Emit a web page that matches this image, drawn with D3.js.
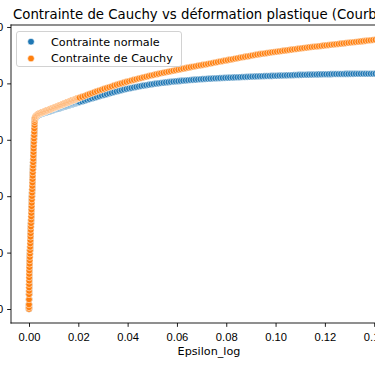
<!DOCTYPE html>
<html>
<head>
<meta charset="utf-8">
<script src="https://cdn.jsdelivr.net/npm/d3@7"></script>
<style>
  body { margin: 0; background: #fff; }
  svg { display: block; font-family: "DejaVu Sans", sans-serif; }
</style>
</head>
<body>
<script>
// Epsilon_log (elastique, zone dense, zone plastique)
const strain = [
  0,0,0,0.00002,0.00004,0.00005,0.00006,0.00007,0.00008,0.00009,0.0001,0.00013,0.00018,0.00023,0.00028,0.00033,0.00038,0.00042,0.00047,0.00052,
  0.00057,0.00062,0.00066,0.00071,0.00076,0.00081,0.00086,0.00091,0.00095,0.001,0.00105,0.0011,0.00115,0.00119,0.00124,0.00129,0.00134,0.00139,0.00144,0.00148,
  0.00153,0.00158,0.00163,0.00168,0.00173,0.00177,0.00182,0.00187,0.00192,0.00197,0.00202,0.00207,0.00212,0.00218,0.00224,0.0023,0.00236,0.00241,
  0.0025,0.0028,0.0031,0.0034,0.0037,0.0040,0.0043,0.0046,0.0049,0.0052,0.0055,0.0058,0.0061,0.0064,0.0067,0.0070,0.0073,0.0076,0.0079,0.0082,
  0.0085,0.0088,0.0091,0.0094,0.0097,0.0100,0.0103,0.0106,0.0109,0.0112,0.0115,0.0118,0.0121,0.0124,0.0127,0.0130,0.0133,0.0136,0.0139,0.0142,
  0.0145,0.0148,0.0151,0.0154,0.0157,0.0160,0.0163,0.0166,0.0169,0.0172,0.0175,0.0178,0.0181,0.0184,0.0187,0.0190,0.0193,0.0196,0.0199,0.0202,0.0205,
  0.0215,0.0225,0.0235,0.0245,0.0255,0.0265,0.0275,0.0285,0.0295,0.0305,0.0315,0.0325,0.0335,0.0345,0.0355,0.0365,0.0375,0.0385,0.0395,0.0405,
  0.0415,0.0425,0.0435,0.0445,0.0455,0.0465,0.0475,0.0485,0.0495,0.0505,0.0515,0.0525,0.0535,0.0545,0.0555,0.0565,0.0575,0.0585,0.0595,0.0605,
  0.0615,0.0625,0.0635,0.0645,0.0655,0.0665,0.0675,0.0685,0.0695,0.0705,0.0715,0.0725,0.0735,0.0745,0.0755,0.0765,0.0775,0.0785,0.0795,0.0805,
  0.0815,0.0825,0.0835,0.0845,0.0855,0.0865,0.0875,0.0885,0.0895,0.0905,0.0915,0.0925,0.0935,0.0945,0.0955,0.0965,0.0975,0.0985,0.0995,0.1005,
  0.1015,0.1025,0.1035,0.1045,0.1055,0.1065,0.1075,0.1085,0.1095,0.1105,0.1115,0.1125,0.1135,0.1145,0.1155,0.1165,0.1175,0.1185,0.1195,0.1205,
  0.1215,0.1225,0.1235,0.1245,0.1255,0.1265,0.1275,0.1285,0.1295,0.1305,0.1315,0.1325,0.1335,0.1345,0.1355,0.1365,0.1375,0.1385,0.1395,0.1405,
  0.1415,0.1425,0.1435,0.1445,0.1455
]

const contrainteNormale = [
  0,3,8,17,26,32,38,44,50,56,62,68,74,80,86,92,98,104,110,115.9,
  121.9,127.9,133.9,139.9,145.9,151.9,157.9,163.9,169.8,175.8,181.8,187.8,193.8,199.8,205.7,211.7,217.7,223.7,229.7,235.7,
  241.6,247.6,253.6,259.6,265.5,271.5,277.5,283.5,289.4,295.4,301.4,307.4,313.3,319.3,325.3,330.2,334.2,337.2,
  339.2,340.5,341.7,342.8,343.7,344.6,345.0,345.4,345.9,346.3,346.7,347.1,347.5,348.0,348.4,348.7,349.1,349.5,350.0,350.4,
  350.8,351.2,351.6,352.1,352.5,352.8,353.2,353.6,354.1,354.5,354.9,355.3,355.6,356.1,356.5,356.9,357.3,357.7,358.2,358.5,
  358.9,359.3,359.7,360.2,360.5,360.9,361.3,361.7,362.2,362.6,362.9,363.3,363.7,364.2,364.6,364.9,365.3,365.7,366.2,366.5,366.9,
  368.0,369.4,370.8,372.1,373.4,374.7,376.0,377.3,378.5,379.7,380.9,382.1,383.3,384.5,385.7,386.8,387.9,389.0,390.0,391.0,
  391.9,392.8,393.7,394.5,395.3,396.1,396.8,397.5,398.2,398.9,399.5,400.1,400.6,401.2,401.7,402.2,402.7,403.2,403.6,404.0,
  404.4,404.8,405.2,405.6,405.9,406.3,406.6,407.0,407.3,407.6,407.9,408.2,408.4,408.7,408.9,409.2,409.4,409.6,409.8,410.0,
  410.2,410.4,410.6,410.8,411.0,411.2,411.4,411.6,411.8,412.0,412.2,412.4,412.6,412.7,412.9,413.0,413.2,413.3,413.5,413.6,
  413.8,413.9,414.1,414.2,414.4,414.5,414.7,414.8,415.0,415.1,415.3,415.4,415.5,415.6,415.7,415.8,415.9,416.0,416.1,416.2,
  416.3,416.4,416.5,416.6,416.6,416.7,416.7,416.8,416.8,416.9,416.9,417.0,417.0,417.1,417.1,417.1,417.1,417.2,417.2,417.2,
  417.2,417.2,417.2,417.2,417.2
]

const contrainteCauchy = [
  0,3,8,17,26,32,38,44,50,56,62,68,74,80,86,92,98,104,110,116,
  122,128,134,140,146,152,158,164,170,176,182,188,194,200,206,212,218,224,230,236,
  242,248,254,260,266,272,278,284,290,296,302,308,314,320,326,331,335,338,
  340.0,341.5,342.8,344.0,345.0,346.0,346.5,347.0,347.6,348.1,348.6,349.1,349.6,350.2,350.7,351.2,351.7,352.2,352.8,353.3,
  353.8,354.3,354.8,355.4,355.9,356.4,356.9,357.4,358.0,358.5,359.0,359.5,360.0,360.6,361.1,361.6,362.1,362.6,363.2,363.7,
  364.2,364.7,365.2,365.8,366.3,366.8,367.3,367.8,368.4,368.9,369.4,369.9,370.4,371.0,371.5,372.0,372.5,373.0,373.6,374.1,374.6,
  376.0,377.7,379.4,381.0,382.6,384.2,385.8,387.3,388.8,390.3,391.8,393.2,394.6,396.0,397.4,398.7,400.0,401.3,402.6,403.8,
  405.0,406.2,407.4,408.5,409.6,410.7,411.8,412.9,413.9,414.9,415.9,416.9,417.9,418.9,419.8,420.7,421.6,422.5,423.4,424.3,
  425.2,426.1,427.0,427.9,428.8,429.6,430.4,431.2,432.0,432.8,433.6,434.4,435.3,436.1,437.0,437.8,438.7,439.5,440.4,441.2,
  442.1,442.9,443.8,444.6,445.4,446.2,447.0,447.8,448.6,449.4,450.2,451.0,451.8,452.4,453.1,453.7,454.4,455.0,455.6,456.2,
  456.8,457.4,458.0,458.6,459.2,459.8,460.4,461.0,461.6,462.2,462.8,463.3,463.9,464.4,464.9,465.4,465.9,466.4,466.9,467.4,
  467.9,468.4,468.9,469.4,469.9,470.4,470.9,471.4,471.9,472.4,472.9,473.4,473.9,474.4,474.9,475.4,475.9,476.4,476.9,477.4,
  477.9,478.4,478.9,479.4,479.9
]

const series = ["Contrainte normale", "Contrainte de Cauchy"]
const couleurs = ["#1f77b4", "#ff7f0e"]
const xTicks = [0, 0.02, 0.04, 0.06, 0.08, 0.10, 0.12, 0.14]
const yTicks = [0, 100, 200, 300, 400, 500]

const width = 375, height = 366
const svg = d3.select("body").append("svg")
  .attr("width", width)
  .attr("height", height)

const x = d3.scaleLinear().domain([-0.0073, 0.1533]).range([11, 407])
const y = d3.scaleLinear().domain([-24.8, 503.5]).range([323, 25])

// titre
svg.append("text")
  .attr("x", 13)
  .attr("y", 18.5)
  .style("font-size", "13.3px")
  .text("Contrainte de Cauchy vs déformation plastique (Courbe rationnelle)")

// points : normale d'abord, Cauchy par dessus
const valeurs = [contrainteNormale, contrainteCauchy]
const points = []
valeurs.forEach((vals, s) => {
  strain.forEach((e, i) => points.push({ e: e, v: vals[i], s: s }))
})

svg.append("g").selectAll("circle").data(points).enter().append("circle")
  .attr("cx", d => x(d.e))
  .attr("cy", d => y(d.v))
  .attr("r", 3.3)
  .attr("fill", d => couleurs[d.s])
  .attr("stroke", "#fff")
  .attr("stroke-width", 0.55)

// axes
const xAxis = svg.append("g")
  .attr("transform", "translate(0,323)")
  .call(d3.axisBottom(x).tickValues(xTicks).tickFormat(d3.format(".2f")).tickSize(3.85).tickSizeOuter(0))
xAxis.select(".domain").remove()
xAxis.selectAll("text").attr("y", 9.8).attr("dy", "0.71em").style("font-size", "11.2px").attr("fill", "#000")
xAxis.selectAll("line").attr("stroke", "#000").attr("stroke-width", 0.88)

const yAxis = svg.append("g")
  .attr("transform", "translate(11,0)")
  .call(d3.axisLeft(y).tickValues(yTicks).tickSize(3.85).tickSizeOuter(0))
yAxis.select(".domain").remove()
yAxis.selectAll("text").attr("x", -7.7).style("font-size", "11.2px").attr("fill", "#000")
yAxis.selectAll("line").attr("stroke", "#000").attr("stroke-width", 0.88)

// cadre
const spines = [[11, 25, 11, 323], [11, 323, 407, 323], [11, 25, 407, 25], [407, 25, 407, 323]]
svg.append("g").selectAll("line").data(spines).enter().append("line")
  .attr("x1", d => d[0]).attr("y1", d => d[1])
  .attr("x2", d => d[2]).attr("y2", d => d[3])
  .attr("stroke", "#000")
  .attr("stroke-width", 0.88)
  .attr("stroke-linecap", "square")

svg.append("text")
  .attr("x", 209)
  .attr("y", 354.5)
  .attr("text-anchor", "middle")
  .style("font-size", "11.2px")
  .text("Epsilon_log")

// legende
const legend = svg.append("g")
legend.append("rect")
  .attr("x", 16.5).attr("y", 31.5)
  .attr("width", 165).attr("height", 35)
  .attr("rx", 2.5)
  .attr("fill", "#fff").attr("fill-opacity", 0.8)
  .attr("stroke", "#ccc").attr("stroke-width", 0.88)

const items = legend.selectAll(".item").data(series).enter().append("g")
  .attr("class", "item")
  .attr("transform", (d, i) => `translate(0,${41.7 + i * 16.8})`)
items.append("circle")
  .attr("cx", 31).attr("cy", 0).attr("r", 3.3)
  .attr("fill", (d, i) => couleurs[i])
  .attr("stroke", "#fff").attr("stroke-width", 0.55)
items.append("text")
  .attr("x", 51).attr("y", 0).attr("dy", "0.35em")
  .style("font-size", "11.2px")
  .text(d => d)
</script>
</body>
</html>
